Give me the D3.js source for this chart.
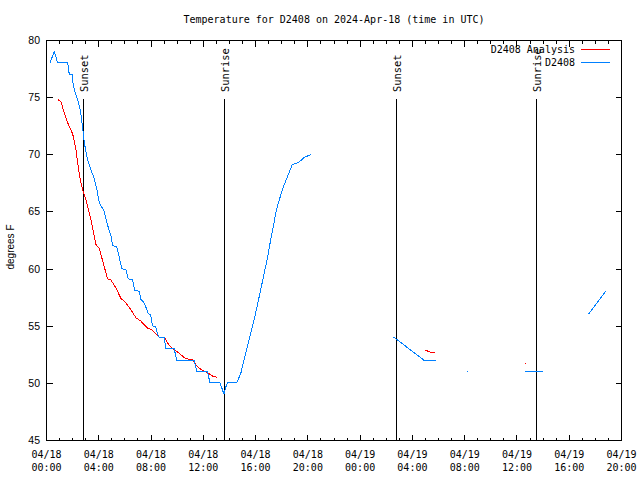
<!DOCTYPE html>
<html>
<head>
<meta charset="utf-8">
<script src="https://cdn.jsdelivr.net/npm/d3@7"></script>
<style>
  html, body { margin: 0; padding: 0; background: #fff; }
  svg { display: block; }
</style>
</head>
<body>
<svg id="chart" width="640" height="480"></svg>
<script>
// ---------------- DATA ----------------
const chartTitle = "Temperature for D2408 on 2024-Apr-18 (time in UTC)";
const yTitle = "degrees F";
const startUTC = Date.UTC(2024, 3, 18, 0, 0);   // 04/18 00:00 UTC
const spanHours = 44;                          // to 04/19 20:00
const xTickHours = [0, 4, 8, 12, 16, 20, 24, 28, 32, 36, 40, 44];
const yTicks = [45, 50, 55, 60, 65, 70, 75, 80];

// D2408 (observations) – hours after start, temperature (F); null = gap
const obsHours = [0.31, 0.63, 0.89, 1.66, 1.78, 1.99, 2.09, 2.29, 2.47, 2.62, 2.80, 2.93, 3.19, 3.44, 3.69, 3.90,
  4.07, 4.45, 4.71, 4.97, 5.10, 5.42, 5.60, 5.81, 6.11, 6.29, 6.62, 6.80, 7.13, 7.26, 7.51, 7.82, 8.02, 8.15,
  8.40, 8.53, 8.66, 9.04, 9.17, 9.80, 10.01, 11.33, 11.54, 12.35, 12.55, 13.32, 13.50, 13.62, 13.75, 13.88,
  14.59, 14.90, 15.28, 15.66, 16.04, 16.42, 16.94, 17.19, 17.40, 17.57, 17.75, 18.08, 18.46, 18.85, 19.35,
  19.73, 20.30,
  null,
  26.61, 28.90, 29.85,
  null,
  32.22, 32.30,
  null,
  36.67, 38.02,
  null,
  41.50, 42.83];
const obsTemps = [78, 79, 78, 78, 77, 77, 76, 75.2, 74.6, 73.9, 72.4, 71.0, 69.5, 68.6, 67.9, 66.9,
  65.8, 65.0, 63.8, 62.9, 62, 61.9, 61.0, 60, 59.9, 59.1, 59, 58.1, 58, 57.3, 57, 56.1, 55.9, 55,
  54.9, 54.3, 54, 54, 53, 53, 52, 52, 51, 51, 50, 50, 49.4, 49, 49.6, 50,
  50, 50.8, 52.6, 54.3, 56.1, 58.1, 60.9, 62.5, 63.7, 64.8, 65.6, 66.9, 68.0, 69.1, 69.3,
  69.7, 70.0,
  null,
  54, 52, 52,
  null,
  51, 51,
  null,
  51, 51,
  null,
  56, 58];

// D2408 Analysis
const anaHours = [0.89, 1.15, 1.40, 1.78, 2.04, 2.29, 2.50, 2.67, 2.85, 3.06, 3.44, 3.82, 4.07, 4.33, 4.71,
  4.97, 5.35, 5.73, 6.11, 6.49, 6.88, 7.26, 7.77, 8.15, 8.66, 9.04, 9.42, 9.80, 10.18, 10.70, 11.21, 11.59,
  11.97, 12.35, 12.73, 13.06,
  null,
  28.98, 29.36, 29.79,
  null,
  36.64, 36.72];
const anaTemps = [74.8, 74.6, 73.6, 72.4, 71.8, 70.4, 68.6, 67.5, 66.7, 66.0, 64.25, 62.1, 61.8, 60.7, 59.1,
  59.0, 58.3, 57.4, 57.0, 56.4, 55.7, 55.4, 54.8, 54.6, 54.0, 54.0, 53.3, 52.9, 52.6, 52.1, 52.06, 51.4,
  51.1, 50.9, 50.6, 50.5,
  null,
  52.9, 52.7, 52.6,
  null,
  51.7, 51.7];

// Sunset / sunrise markers (hours after start)
const eventHours = [2.85, 13.62, 26.76, 37.53];
const eventLabels = ["Sunset", "Sunrise", "Sunset", "Sunrise"];

const seriesNames = ["D2408 Analysis", "D2408"];
const seriesColors = ["#ff0000", "#0080ff"];

// ---------------- DRAW ----------------
const svg = d3.select("#chart");
const L = 46, R = 621, T = 40, B = 440;
const mono = "'DejaVu Sans Mono', 'Liberation Mono', monospace";
const sans = "'Liberation Sans', Arial, sans-serif";

const toDate = h => new Date(startUTC + h * 3600e3);
const x = d3.scaleUtc().domain([toDate(0), toDate(spanHours)]).range([L, R]);
const y = d3.scaleLinear().domain([45, 80]).range([B, T]);

const px = v => Math.round(v) + 0.5;

const g = svg.append("g");

// frame
g.append("rect").attr("x", L + 0.5).attr("y", T + 0.5).attr("width", R - L).attr("height", B - T)
  .attr("fill", "none").attr("stroke", "#000").attr("stroke-width", 1).attr("shape-rendering", "crispEdges");

// x ticks (hourly minor, 4h major), bottom and top, inward
const tickG = g.append("g").attr("stroke", "#000").attr("stroke-width", 1).attr("shape-rendering", "crispEdges");
for (let h = 0; h <= spanHours; h++) {
  const major = xTickHours.includes(h);
  const len = major ? 6 : 3;
  const xx = px(x(toDate(h)));
  tickG.append("line").attr("x1", xx).attr("x2", xx).attr("y1", B + 0.5).attr("y2", B + 0.5 - len);
  tickG.append("line").attr("x1", xx).attr("x2", xx).attr("y1", T + 0.5).attr("y2", T + 0.5 + len);
}
// y ticks left and right
yTicks.forEach(t => {
  const yy = px(y(t));
  tickG.append("line").attr("x1", L + 0.5).attr("x2", L + 0.5 + 6).attr("y1", yy).attr("y2", yy);
  tickG.append("line").attr("x1", R + 0.5).attr("x2", R + 0.5 - 6).attr("y1", yy).attr("y2", yy);
});

// x labels
const fmtDay = d3.utcFormat("%m/%d"), fmtTime = d3.utcFormat("%H:%M");
xTickHours.forEach(h => {
  const d = toDate(h);
  const t = g.append("text").attr("font-family", mono).attr("font-size", "10px").attr("fill", "#000")
    .attr("text-anchor", "middle");
  t.append("tspan").attr("x", x(d) + 0.5).attr("y", 458).text(fmtDay(d));
  t.append("tspan").attr("x", x(d) + 0.5).attr("y", 471).text(fmtTime(d));
});

// y labels
yTicks.forEach(t => {
  g.append("text").attr("x", 40).attr("y", y(t) + 4).attr("text-anchor", "end")
    .attr("font-family", sans).attr("font-size", "10.5px").attr("fill", "#000").text(t);
});

// y title
g.append("text").attr("transform", "translate(14,247) rotate(-90)").attr("text-anchor", "middle")
  .attr("font-family", sans).attr("font-size", "10px").attr("fill", "#000").text(yTitle);

// title
g.append("text").attr("x", (L + R) / 2 + 0.5).attr("y", 23).attr("text-anchor", "middle")
  .attr("font-family", mono).attr("font-size", "10px").attr("fill", "#000").text(chartTitle);

// sunrise/sunset lines
eventHours.forEach((h, i) => {
  const xx = px(x(toDate(h)));
  g.append("line").attr("x1", xx).attr("x2", xx).attr("y1", 99).attr("y2", B + 0.5)
    .attr("stroke", "#000").attr("stroke-width", 1).attr("shape-rendering", "crispEdges");
  g.append("text").attr("transform", `translate(${xx + 4.5},92) rotate(-90)`).attr("text-anchor", "start")
    .attr("font-family", mono).attr("font-size", "10.4px").attr("fill", "#000").text(eventLabels[i]);
});

// series lines
const line = d3.line()
  .defined(d => d[0] !== null && d[1] !== null)
  .x(d => x(toDate(d[0])))
  .y(d => y(d[1]));

const anaData = anaHours.map((h, i) => [h, anaTemps[i]]);
const obsData = obsHours.map((h, i) => [h, obsTemps[i]]);

g.append("path").datum(anaData).attr("d", line).attr("fill", "none")
  .attr("stroke", seriesColors[0]).attr("stroke-width", 1).attr("shape-rendering", "crispEdges");
g.append("path").datum(obsData).attr("d", line).attr("fill", "none")
  .attr("stroke", seriesColors[1]).attr("stroke-width", 1).attr("shape-rendering", "crispEdges");

// legend
seriesNames.forEach((name, i) => {
  const yy = 53 + i * 13;
  g.append("text").attr("x", 575).attr("y", yy).attr("text-anchor", "end")
    .attr("font-family", mono).attr("font-size", "10px").attr("fill", "#000").text(name);
  g.append("line").attr("x1", 581).attr("x2", 610).attr("y1", yy - 3.5).attr("y2", yy - 3.5)
    .attr("stroke", seriesColors[i]).attr("stroke-width", 1).attr("shape-rendering", "crispEdges");
});
</script>
</body>
</html>
